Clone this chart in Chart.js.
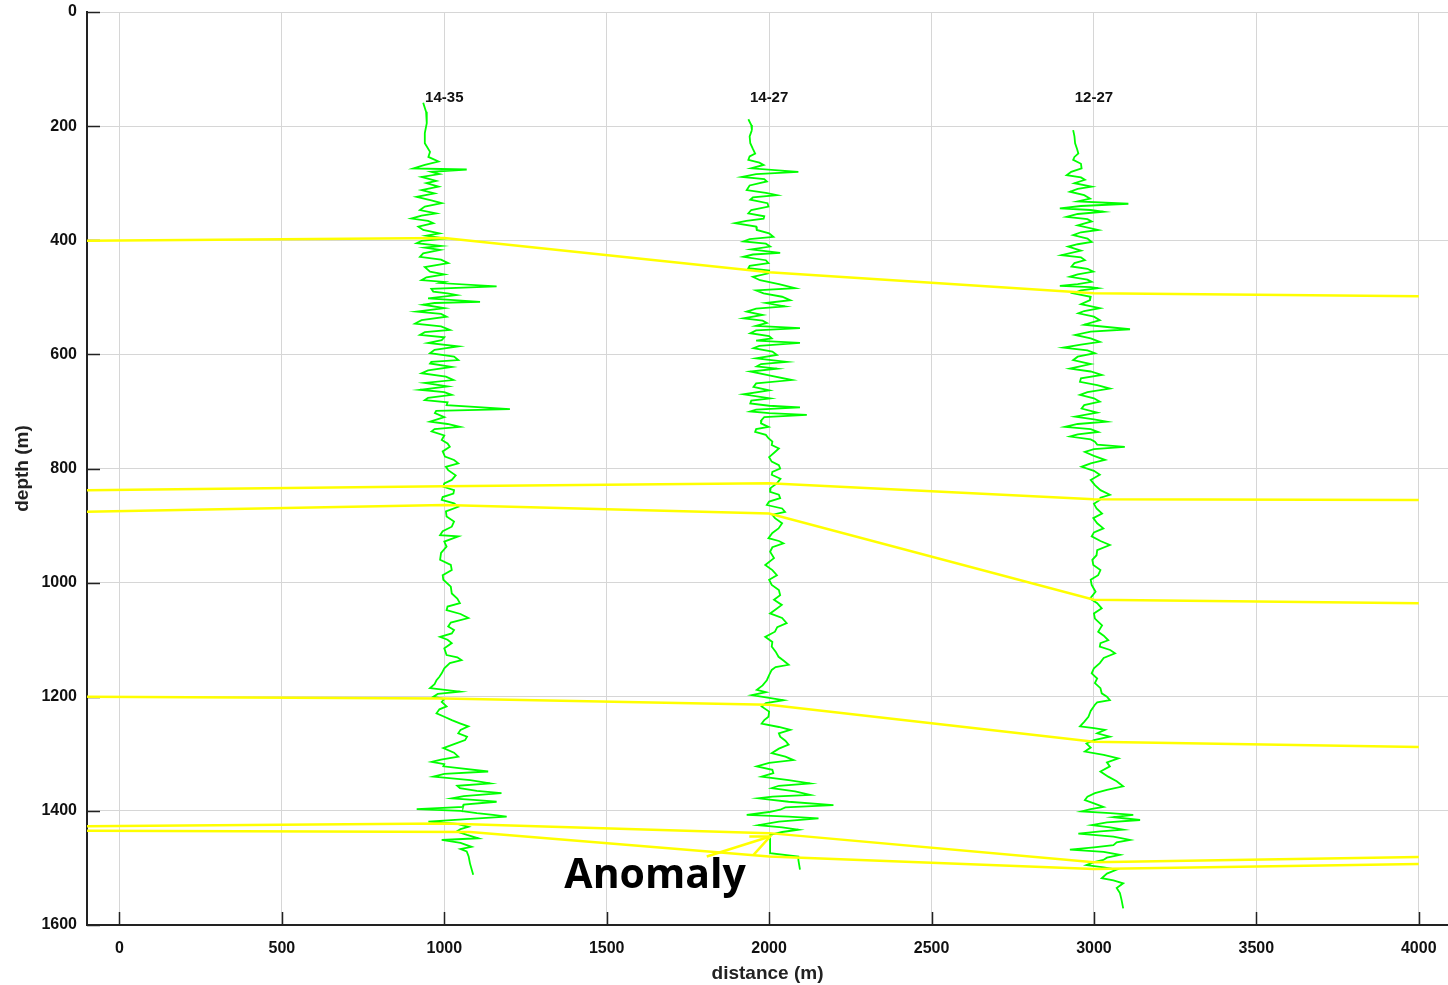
<!DOCTYPE html>
<html>
<head>
<meta charset="utf-8">
<script src="https://cdn.jsdelivr.net/npm/chart.js@4.4.0/dist/chart.umd.min.js"></script>
<style>
  html, body { margin: 0; padding: 0; background: #fff; }
  #wrap { width: 1448px; height: 985px; }
</style>
</head>
<body>
<div id="wrap"><canvas id="logCanvas" width="1448" height="985"></canvas></div>
<script>
const xTicks = [0, 500, 1000, 1500, 2000, 2500, 3000, 3500, 4000];
const yTicks = [0, 200, 400, 600, 800, 1000, 1200, 1400, 1600];

const wellNames = ['14-35', '14-27', '12-27'];
const wellDist = [1000, 2000, 3000];
const wellLabelDepth = 151;

// log traces as [depth, distance] pairs
const log1435 = [
  [159, 935], [175, 944], [195, 946], [212, 940], [230, 940], [245, 956], [254, 951], [262, 982], [268, 940],
  [274, 905], [276, 1069], [280, 960], [284, 985], [289, 930], [296, 975], [300, 945], [306, 982], [312, 930],
  [318, 970], [324, 915], [330, 960], [335, 992], [341, 940], [347, 925], [353, 975], [357, 930], [362, 899],
  [366, 950], [370, 966], [376, 920], [382, 935], [388, 985], [392, 945], [397, 1002], [401, 930], [405, 915],
  [410, 990], [413, 940], [417, 987], [423, 935], [429, 925], [434, 990], [440, 1012], [447, 940], [455, 956],
  [460, 1000], [465, 945], [470, 930], [473, 1000], [475, 987], [481, 1161], [485, 960], [490, 966], [493, 1010],
  [496, 1038], [502, 950], [508, 1110], [510, 970], [513, 935], [519, 1000], [525, 915], [529, 990], [534, 1007],
  [540, 930], [546, 910], [551, 990], [557, 1017], [561, 940], [566, 925], [570, 1000], [575, 992], [580, 950],
  [586, 1043], [592, 970], [598, 956], [604, 1030], [610, 1043], [613, 960],
  [616, 956], [622, 1023], [628, 950], [633, 930], [639, 1005], [645, 1028], [650, 940], [656, 1010], [662, 925],
  [666, 1000], [671, 1023], [676, 950], [680, 940], [684, 1010], [689, 1007], [696, 1202], [699, 975], [703, 971],
  [710, 1000], [718, 956], [722, 1010], [727, 1048], [731, 970], [735, 961], [742, 1000], [750, 992], [756, 1010],
  [762, 1017], [770, 995], [779, 1002], [785, 1030], [791, 1043], [797, 1005], [803, 1012], [812, 1035], [820, 1023],
  [826, 1000], [832, 997], [838, 1030], [844, 1028], [850, 995], [855, 992], [861, 1030], [867, 1043], [875, 1005],
  [884, 1007], [893, 1030], [902, 1023], [910, 995], [917, 987], [919, 1043], [928, 1000], [937, 1007], [948, 990],
  [960, 987], [969, 1020], [978, 1023], [987, 995], [995, 997], [1007, 1020], [1019, 1023], [1028, 1040], [1036, 1048],
  [1042, 1010], [1048, 1007], [1055, 1050], [1062, 1074], [1070, 1020], [1077, 1012],
  [1083, 1030], [1089, 1023], [1095, 987], [1100, 1010], [1106, 1023], [1115, 1000], [1127, 1007], [1131, 1040],
  [1136, 1053], [1141, 1017], [1150, 1000], [1159, 992], [1165, 985], [1171, 976], [1178, 970], [1185, 956],
  [1191, 1048], [1195, 980], [1200, 966], [1204, 1000], [1209, 992], [1217, 1007], [1222, 985], [1229, 976],
  [1235, 1000], [1241, 1023], [1247, 1050], [1252, 1074], [1258, 1050], [1264, 1043], [1270, 1070], [1276, 1064],
  [1283, 1030], [1290, 997], [1298, 1030], [1305, 1043], [1310, 990], [1314, 961], [1318, 1000], [1322, 997],
  [1331, 1135], [1335, 1000], [1340, 966], [1346, 1080], [1352, 1141], [1356, 1040], [1360, 1048], [1365, 1100],
  [1369, 1176], [1374, 1060], [1378, 1023], [1381, 1100], [1384, 1161], [1389, 1060], [1393, 1058], [1397, 915],
  [1400, 1050], [1404, 1100], [1407, 1150], [1410, 1192], [1414, 1080], [1419, 951], [1423, 1040], [1428, 1074],
  [1432, 1050], [1436, 1038], [1442, 1070], [1448, 1105], [1451, 992], [1456, 1050], [1463, 1084], [1467, 1050],
  [1471, 1069], [1480, 1075], [1492, 1079], [1512, 1089]
];

const log1427 = [
  [188, 1936], [198, 1945], [207, 1947], [218, 1940], [230, 1942], [240, 1950], [248, 1957], [253, 1940], [259, 1936],
  [264, 1970], [268, 1983], [274, 1945], [280, 2090], [284, 1960], [289, 1916], [293, 1985], [297, 1993], [304, 1940],
  [312, 1931], [317, 1990], [321, 2024], [325, 1950], [329, 1942], [335, 1995], [341, 1998], [347, 1945], [353, 1936],
  [358, 1985], [362, 1983], [366, 1930], [370, 1895], [376, 1960], [382, 1962], [388, 2000], [394, 2013], [398, 1940],
  [402, 1921], [406, 1990], [411, 2003], [416, 1945], [422, 2034], [425, 1950], [429, 1921], [435, 1990], [440, 1998],
  [445, 1940], [449, 1936], [453, 2000], [458, 1998], [464, 1950], [470, 1972], [477, 2030], [484, 2080], [488, 1960],
  [493, 1983], [499, 2040], [505, 2065], [510, 1990], [516, 2049], [520, 1960], [525, 1931], [531, 1980], [537, 1921],
  [541, 1980], [545, 1993], [550, 1960], [554, 2095], [558, 1960], [563, 1942], [568, 2000], [572, 2008], [576, 1960],
  [580, 2095], [585, 1970], [589, 1952], [595, 2010], [601, 2024], [607, 1960], [613, 2054], [617, 1975], [621, 1962],
  [625, 2024], [630, 1942], [637, 2000], [645, 2070], [651, 1960], [657, 1952], [663, 2000], [670, 1921], [677, 2003],
  [681, 1945], [686, 1942], [690, 2000], [693, 2095], [697, 1960], [700, 1942], [703, 2000], [706, 2116], [710, 1985],
  [715, 1977], [721, 1975], [727, 1998], [731, 1960], [736, 1957], [741, 1990], [747, 1998], [753, 2010], [759, 2008],
  [765, 2030], [771, 2018], [780, 2000], [788, 2008], [794, 2030], [800, 2034], [806, 2010], [811, 2008], [818, 2035],
  [826, 2024], [834, 2005], [841, 2003], [846, 2030], [852, 2034], [858, 2000], [864, 1993], [870, 2040], [876, 2049],
  [881, 2010], [887, 2018], [896, 2040], [905, 2029], [913, 2010], [922, 1998], [927, 2030], [931, 2044], [938, 2010],
  [946, 2003], [957, 2015], [969, 1988], [978, 2010], [987, 2024], [995, 2000], [1004, 2008], [1013, 2030], [1022, 2034],
  [1030, 2015], [1039, 2039], [1047, 2020], [1054, 2003], [1062, 2040], [1071, 2054], [1078, 2025], [1086, 2018],
  [1095, 1988], [1104, 2010], [1112, 2008], [1121, 2020], [1130, 2029], [1137, 2045], [1144, 2060], [1148, 2020],
  [1153, 2008], [1162, 2000], [1171, 1993], [1180, 1980], [1188, 1962], [1192, 1990], [1197, 1947], [1202, 2000],
  [1206, 2044], [1211, 1990], [1217, 1977], [1226, 2000], [1235, 1998], [1241, 1985], [1247, 1977], [1253, 2030],
  [1258, 2065], [1264, 2030], [1270, 2034], [1277, 2050], [1284, 2060], [1291, 2030], [1299, 2008], [1305, 2050],
  [1311, 2075], [1316, 2000], [1322, 1962], [1328, 2010], [1334, 2013], [1340, 1977], [1346, 2060], [1352, 2126],
  [1356, 2030], [1360, 2008], [1366, 2080], [1372, 2126], [1375, 2010], [1378, 1967], [1384, 2060], [1390, 2198],
  [1394, 2050], [1398, 2034], [1402, 2000], [1407, 1931], [1410, 2060], [1413, 2152], [1419, 2030], [1425, 1967],
  [1429, 2040], [1433, 2090], [1437, 2040], [1442, 2003], [1458, 2003], [1474, 2003], [1480, 2090], [1486, 2090],
  [1503, 2095]
];

const log1227 = [
  [207, 2936], [218, 2940], [230, 2942], [240, 2948], [248, 2952], [254, 2940], [259, 2936], [266, 2960], [274, 2962],
  [280, 2930], [286, 2916], [290, 2960], [294, 2972], [300, 2940], [306, 2993], [310, 2950], [315, 2926], [321, 2970],
  [327, 2988], [332, 2950], [336, 3106], [340, 2960], [344, 2895], [347, 2990], [350, 3029], [354, 2950], [359, 2916],
  [363, 2980], [367, 2993], [374, 2950], [382, 3013], [386, 2960], [391, 2936], [397, 2980], [403, 2993], [407, 2950],
  [411, 2921], [418, 2960], [426, 2900], [430, 2960], [435, 2972], [440, 2940], [446, 2931], [450, 2980], [455, 2998],
  [460, 2950], [464, 2926], [469, 2980], [473, 2993], [477, 2950], [480, 2895], [482, 2990], [484, 3013], [488, 2960],
  [493, 2936], [499, 2990], [505, 2988], [512, 2960], [519, 3018], [524, 2970], [528, 2952], [534, 3000], [540, 3018],
  [548, 2970], [556, 3111], [560, 2990], [566, 2942], [572, 2990], [578, 3018], [583, 2960], [588, 2906], [593, 2980],
  [598, 3003], [604, 2950], [610, 2936], [617, 2990],
  [625, 2926], [630, 2990], [636, 3024], [642, 2960], [648, 2957], [654, 3010], [660, 3049], [666, 2980], [671, 2957],
  [677, 3000], [683, 3018], [689, 2970], [695, 2962], [702, 3010], [709, 2942], [714, 3000], [718, 3039], [722, 2950],
  [727, 2911], [731, 2990], [736, 3013], [740, 2950], [744, 2926], [749, 2990], [753, 3003], [758, 3010], [762, 3095],
  [766, 3000], [771, 2972], [778, 3000], [785, 3034], [791, 2990], [797, 2962], [804, 3000], [811, 3018], [820, 2990],
  [829, 3003], [838, 3020], [846, 3049], [851, 3020], [855, 3018], [862, 3000], [870, 3008], [879, 3025], [887, 2998],
  [896, 3010], [905, 3029], [912, 3000], [919, 2993], [927, 3020], [934, 3049], [943, 3010], [952, 3008], [960, 2995],
  [969, 2998], [978, 3020], [987, 3013], [995, 2990], [1004, 2993], [1016, 3005], [1028, 2988], [1036, 3010],
  [1045, 3024], [1054, 3000], [1063, 3003], [1075, 3025], [1086, 3013],
  [1093, 3030], [1101, 3044], [1106, 3020], [1112, 3018], [1118, 3050], [1124, 3065], [1132, 3030], [1141, 3018],
  [1150, 3000], [1159, 2993], [1168, 3010], [1176, 3003], [1185, 3020], [1194, 3024], [1200, 3040], [1206, 3049],
  [1210, 3010], [1214, 3003], [1225, 2990], [1235, 2983], [1244, 2970], [1252, 2957], [1255, 3000], [1258, 3034],
  [1264, 3010], [1270, 3049], [1276, 3000], [1282, 2977], [1289, 2990], [1296, 2972], [1302, 3030], [1308, 3075],
  [1315, 3040], [1322, 3049], [1331, 3020], [1340, 3044], [1348, 3070], [1357, 3090], [1363, 3040], [1369, 3003],
  [1375, 2980], [1381, 2972], [1387, 3000], [1393, 3029], [1397, 2990], [1401, 2962], [1404, 3050], [1407, 3121],
  [1411, 3060], [1416, 3142], [1420, 3040], [1425, 2993], [1429, 3050], [1433, 3090], [1436, 3020], [1440, 2952],
  [1445, 3060], [1451, 3111], [1455, 3070], [1460, 3060], [1464, 3000], [1468, 2926], [1472, 3030], [1477, 3080],
  [1482, 3040], [1486, 3029], [1490, 3000], [1495, 2977], [1499, 3030], [1503, 3070], [1510, 3040], [1518, 3024],
  [1522, 3060], [1527, 3090], [1535, 3070], [1544, 3080], [1556, 3085], [1571, 3090]
];

// correlated horizons (yellow)
const horizonDist = [-100, 1000, 2000, 3000, 4000];
const horizonA = [401, 396, 456, 493, 498];
const horizonB = [838, 831, 826, 854, 855];
const horizonC = [876, 864, 879, 1030, 1036];
const horizonD = [1200, 1203, 1214, 1279, 1288];
const horizonE = [1427, 1422, 1439, 1490, 1481];
const horizonFDist = [-100, 1080, 2000, 3000, 4000];
const horizonF = [1435, 1437, 1480, 1502, 1493];

// anomaly arrow
const arrowDist = [1808, 2003];
const arrowDepth = [1480, 1445];
const arrowHeadDist = [1939, 2003, 1952];
const arrowHeadDepth = [1445, 1445, 1477];
const anomalyText = 'Anomaly';
const anomalyDist = 1649;
const anomalyDepth = 1535;

function toPoints(dist, depth) {
  return dist.map((x, i) => ({ x, y: depth[i] }));
}

const YELLOW = '#ffff00';
const GREEN = '#00ff00';
const FONT = "'Liberation Sans', Arial, sans-serif";
const tickFont = { family: FONT, size: 16, weight: 'bold' };
const titleFont = { family: FONT, size: 19, weight: 'bold' };

function yellowLine(dist, depth) {
  return { data: toPoints(dist, depth), borderColor: YELLOW, borderWidth: 2.5, order: 0 };
}
function greenLog(pairs) {
  return {
    data: pairs.map(p => ({ x: p[1], y: p[0] })),
    borderColor: GREEN, borderWidth: 1.8, order: 1
  };
}

const datasets = [
  yellowLine(horizonDist, horizonA),
  yellowLine(horizonDist, horizonB),
  yellowLine(horizonDist, horizonC),
  yellowLine(horizonDist, horizonD),
  yellowLine(horizonDist, horizonE),
  yellowLine(horizonFDist, horizonF),
  yellowLine(arrowDist, arrowDepth),
  yellowLine(arrowHeadDist, arrowHeadDepth),
  greenLog(log1435),
  greenLog(log1427),
  greenLog(log1227)
];

// ticks drawn inward from the axes
const innerTicks = {
  id: 'innerTicks',
  beforeDatasetsDraw(chart) {
    const { ctx, chartArea, scales } = chart;
    ctx.save();
    ctx.strokeStyle = '#222';
    ctx.lineWidth = 1.5;
    ctx.beginPath();
    yTicks.forEach(v => {
      const y = Math.round(scales.y.getPixelForValue(v)) + 0.5;
      ctx.moveTo(chartArea.left, y);
      ctx.lineTo(chartArea.left + 13, y);
    });
    xTicks.forEach(v => {
      const x = Math.round(scales.x.getPixelForValue(v)) + 0.5;
      ctx.moveTo(x, chartArea.bottom);
      ctx.lineTo(x, chartArea.bottom - 13);
    });
    ctx.stroke();
    ctx.restore();
  }
};

const labels = {
  id: 'labels',
  afterDatasetsDraw(chart) {
    const { ctx, scales } = chart;
    ctx.save();
    ctx.fillStyle = '#111';
    ctx.textAlign = 'center';
    ctx.textBaseline = 'middle';
    ctx.font = 'bold 15px ' + FONT;
    wellNames.forEach((name, i) => {
      ctx.fillText(name, scales.x.getPixelForValue(wellDist[i]), scales.y.getPixelForValue(wellLabelDepth));
    });
    ctx.fillStyle = '#000';
    ctx.textBaseline = 'alphabetic';
    ctx.font = "bold 41px 'Open Sans', sans-serif";
    ctx.fillText(anomalyText, scales.x.getPixelForValue(anomalyDist), scales.y.getPixelForValue(anomalyDepth));
    ctx.restore();
  }
};

new Chart(document.getElementById('logCanvas'), {
  type: 'scatter',
  data: { datasets },
  options: {
    responsive: false,
    animation: false,
    showLine: true,
    elements: { point: { radius: 0 }, line: { tension: 0 } },
    layout: { padding: { top: 12, right: 0, left: 0, bottom: 0 } },
    plugins: { legend: { display: false }, tooltip: { enabled: false } },
    scales: {
      x: {
        type: 'linear',
        min: -100,
        max: 4090,
        afterBuildTicks: s => { s.ticks = xTicks.map(value => ({ value })); },
        afterFit: s => { s.height = 60; s.paddingLeft = 0; s.paddingRight = 0; },
        grid: { color: '#d6d6d6', lineWidth: 1, drawTicks: false },
        border: { display: true, color: '#222', width: 2 },
        ticks: { color: '#111', font: tickFont, padding: 14, maxRotation: 0, callback: v => String(v) },
        title: { display: true, text: 'distance (m)', color: '#222', font: titleFont, padding: { top: 0, bottom: 0 } }
      },
      y: {
        type: 'linear',
        reverse: true,
        min: 0,
        max: 1600,
        afterBuildTicks: s => { s.ticks = yTicks.map(value => ({ value })); },
        afterFit: s => { s.width = 87; s.paddingTop = 0; s.paddingBottom = 0; },
        grid: { color: '#d6d6d6', lineWidth: 1, drawTicks: false },
        border: { display: true, color: '#222', width: 2 },
        ticks: { color: '#111', font: tickFont, padding: 10, callback: v => String(v) },
        title: { display: true, text: 'depth (m)', color: '#222', font: titleFont, padding: { top: 11, bottom: 0 } }
      }
    }
  },
  plugins: [innerTicks, labels]
});
</script>
</body>
</html>
